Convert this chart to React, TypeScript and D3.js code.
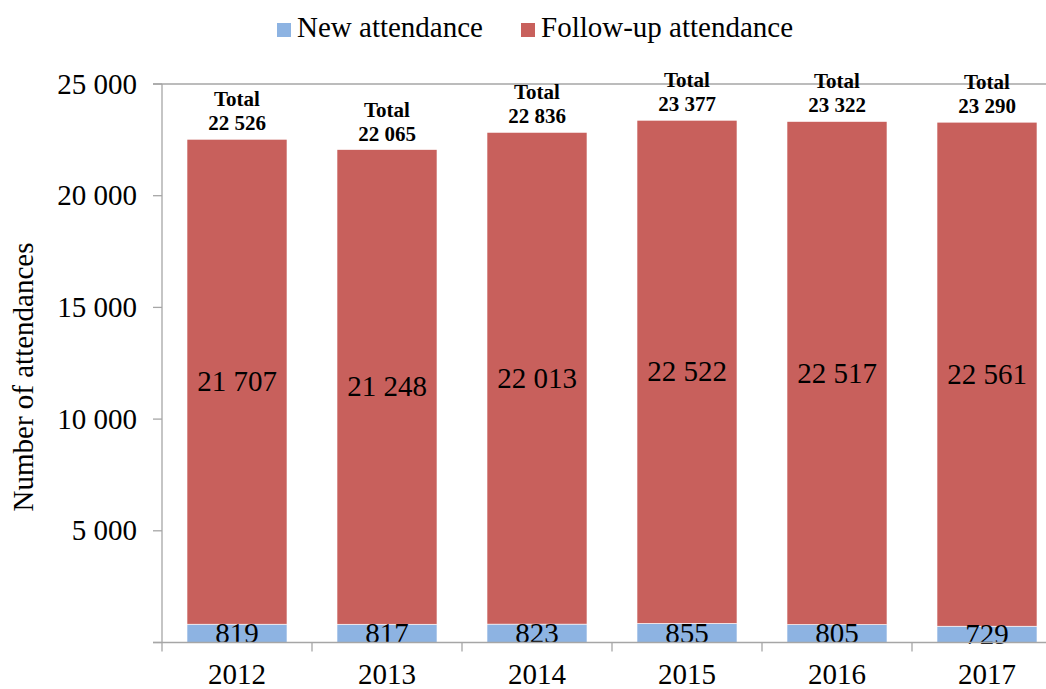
import React from "react";
import * as d3 from "d3";

const years = ["2012", "2013", "2014", "2015", "2016", "2017"];
const newAttendance = [819, 817, 823, 855, 805, 729];
const followUpAttendance = [21707, 21248, 22013, 22522, 22517, 22561];
const yTicks = [0, 5000, 10000, 15000, 20000, 25000];
const seriesNames = ["New attendance", "Follow-up attendance"];
const seriesColors = ["#8DB3E2", "#C8605C"];

const W = 1046;
const H = 689;
const FONT = '"Times New Roman", "Liberation Serif", "DejaVu Serif", serif';

const fmt = d3
  .formatLocale({ thousands: " ", grouping: [3], decimal: ".", currency: ["", ""] })
  .format(",d");

export default function App() {
  const x = d3.scaleBand<string>().domain(years).range([162, 1062]).paddingInner(1 / 3).paddingOuter(1 / 6);
  const y = d3.scaleLinear().domain([0, 25000]).range([642.5, 84]);
  const axisColor = "#A6A6A6";
  const bw = x.bandwidth();
  const step = x.step();

  const rows = years.map((yr, i) => ({
    yr,
    n: newAttendance[i],
    f: followUpAttendance[i],
    total: newAttendance[i] + followUpAttendance[i],
  }));

  const legendItems = [
    { name: seriesNames[0], color: seriesColors[0], x: 277 },
    { name: seriesNames[1], color: seriesColors[1], x: 521 },
  ];

  return (
    <svg
      width={W}
      height={H}
      style={{ position: "absolute", left: 0, top: 0, display: "block", background: "#fff", fontFamily: FONT }}
    >
      {/* legend */}
      {legendItems.map((it) => (
        <g key={it.name}>
          <rect x={it.x} y={23} width={14} height={14} fill={it.color} />
          <text x={it.x + 20} y={37} fontSize={29} fill="#000">
            {it.name}
          </text>
        </g>
      ))}

      {/* top border line at max */}
      <line x1={153} x2={1062} y1={y(25000)} y2={y(25000)} stroke={axisColor} strokeWidth={1.3} />

      {/* y axis */}
      <line x1={162} x2={162} y1={y(25000)} y2={y(0)} stroke={axisColor} strokeWidth={1.3} />
      {yTicks.map((t) => (
        <g key={t}>
          <line x1={153} x2={162} y1={y(t)} y2={y(t)} stroke={axisColor} strokeWidth={1.3} />
          {t > 0 && (
            <text x={137} y={y(t)} dy="0.33em" textAnchor="end" fontSize={29} fill="#000">
              {fmt(t)}
            </text>
          )}
        </g>
      ))}
      <text
        transform={`translate(33,377) rotate(-90)`}
        textAnchor="middle"
        fontSize={29}
        fill="#000"
      >
        Number of attendances
      </text>

      {/* bars */}
      {rows.map((r) => {
        const x0 = x(r.yr)!;
        const cx = x0 + bw / 2;
        return (
          <g key={r.yr}>
            <rect
              x={x0}
              y={y(r.n)}
              width={bw}
              height={y(0) - y(r.n)}
              fill={seriesColors[0]}
              stroke="#fff"
              strokeWidth={0.6}
            />
            <rect
              x={x0}
              y={y(r.n + r.f)}
              width={bw}
              height={y(r.n) - y(r.n + r.f)}
              fill={seriesColors[1]}
              stroke="#fff"
              strokeWidth={0.6}
            />
            <text x={cx} y={(y(0) + y(r.n)) / 2} dy="0.33em" textAnchor="middle" fontSize={29} fill="#000">
              {fmt(r.n)}
            </text>
            <text
              x={cx}
              y={(y(r.n) + y(r.n + r.f)) / 2}
              dy="0.33em"
              textAnchor="middle"
              fontSize={29}
              fill="#000"
            >
              {fmt(r.f)}
            </text>
            <text x={cx} y={y(r.total) - 33} textAnchor="middle" fontSize={21} fontWeight="bold" fill="#000">
              Total
            </text>
            <text x={cx} y={y(r.total) - 9} textAnchor="middle" fontSize={21} fontWeight="bold" fill="#000">
              {fmt(r.total)}
            </text>
          </g>
        );
      })}

      {/* x axis */}
      <line x1={153} x2={1062} y1={y(0)} y2={y(0)} stroke={axisColor} strokeWidth={1.3} />
      {years.map((yr, i) => (
        <line
          key={"t" + yr}
          x1={162 + i * step}
          x2={162 + i * step}
          y1={y(0)}
          y2={y(0) + 9}
          stroke={axisColor}
          strokeWidth={1.3}
        />
      ))}
      {years.map((yr) => (
        <text key={"l" + yr} x={x(yr)! + bw / 2} y={684} textAnchor="middle" fontSize={29} fill="#000">
          {yr}
        </text>
      ))}
    </svg>
  );
}
